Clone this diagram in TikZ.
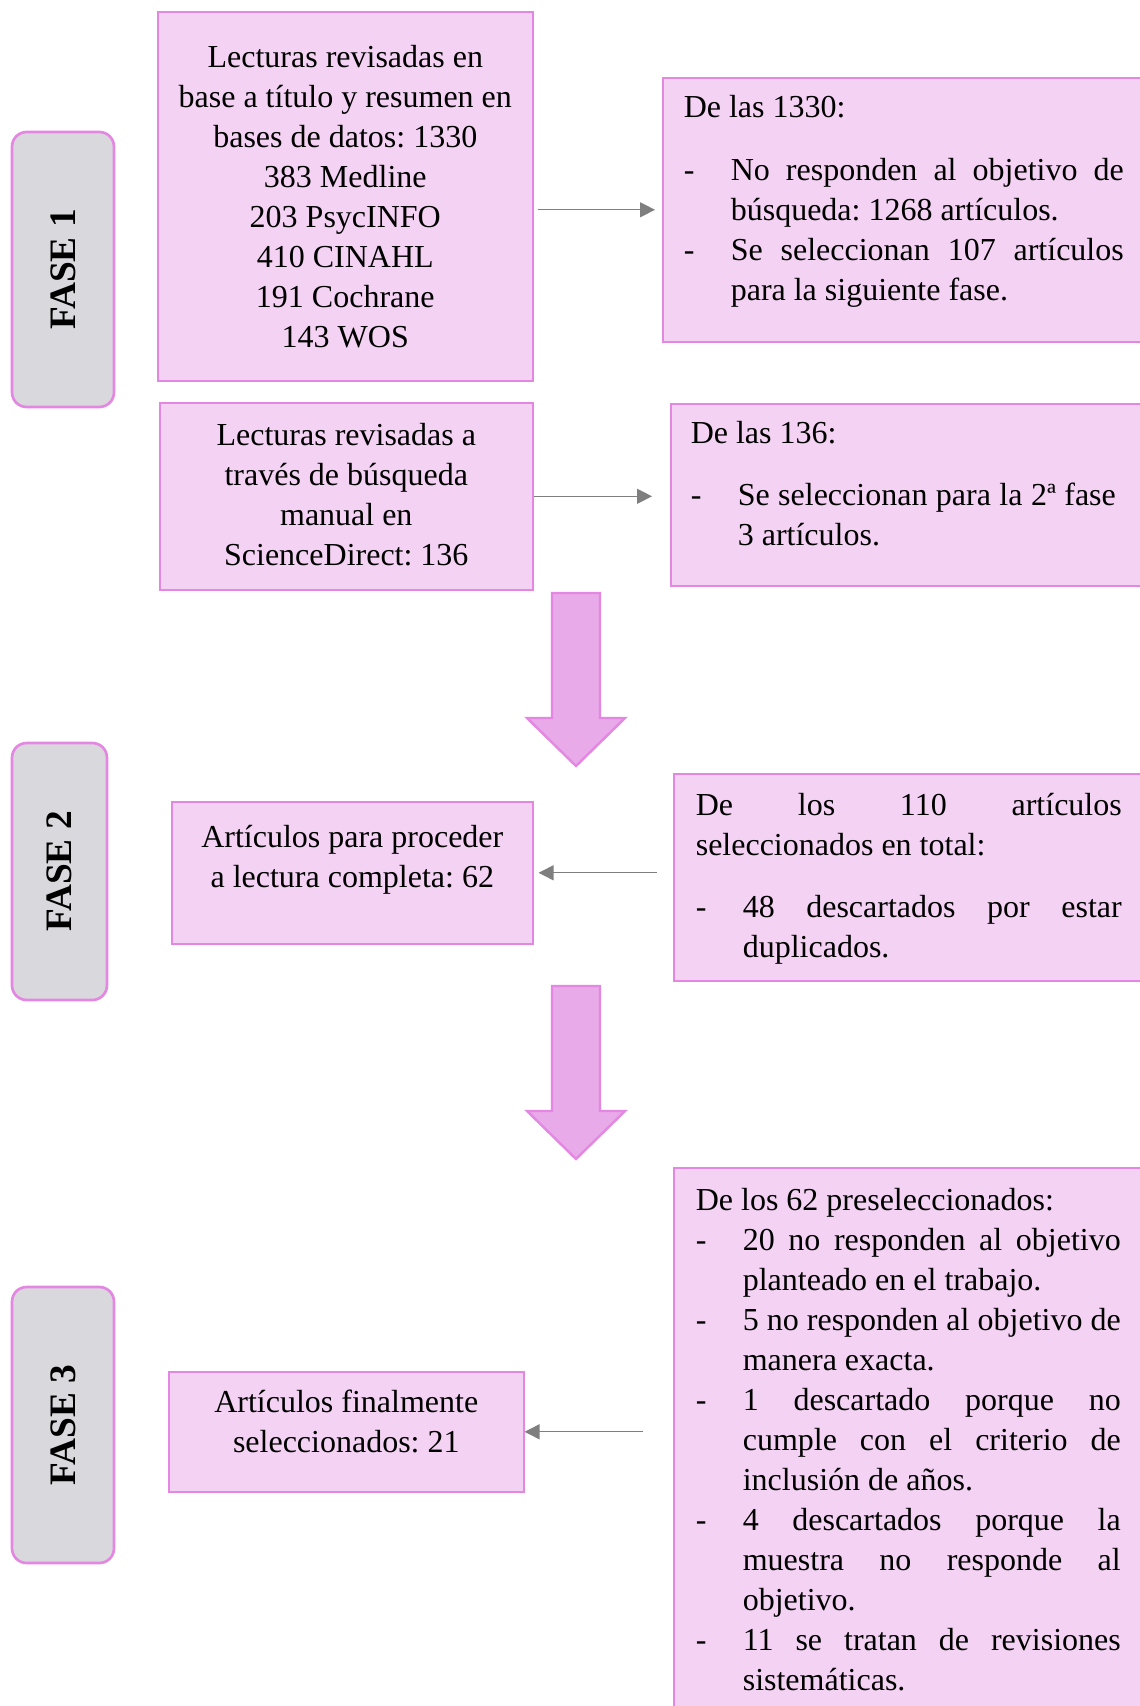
\documentclass[tikz,border=0pt]{standalone}
\usepackage{fontspec}
\setmainfont{Liberation Serif}
\usetikzlibrary{arrows.meta,calc}
\definecolor{FaseRosa}{HTML}{F4D2F3}
\definecolor{FaseBorde}{HTML}{E387E3}
\definecolor{FaseGris}{HTML}{D9D9DD}
\definecolor{FaseFlecha}{HTML}{E8AAE8}
\definecolor{FaseLinea}{HTML}{7F7F7F}
\frenchspacing
\newlength{\px}
\setlength{\px}{0.375pt}
\newcommand{\centrado}[4]{\parbox[c][#2\px][t]{#1\px}{\fontsize{12}{15}\selectfont\centering
  \rule{0pt}{#3\px}#4}}
\newcommand{\lista}[5]{\parbox[c][#1\px][t]{560\px}{\hspace*{#2\px}\parbox[t]{#3\px}{%
  \fontsize{12}{15}\selectfont\hyphenpenalty=10000\rule{0pt}{#4\px}#5}}}
\newcommand{\guion}{\par\hangindent=47\px\hangafter=1\noindent\makebox[47\px][l]{-}}

\begin{document}
\begin{tikzpicture}[x=0.375pt,y=-0.375pt]
    \tikzset{caja/.style={draw=FaseBorde,fill=FaseRosa,line width=0.6pt,inner sep=0pt,anchor=north west},
      fase/.style={draw=FaseBorde,fill=FaseGris,line width=1pt,rounded corners=5.5pt,rotate=90,
      font=\fontsize{14}{17}\selectfont\bfseries},
      flecha/.style={draw=FaseLinea,line width=0.5pt,-{Triangle[length=5.6pt,width=5.6pt]}},
      bloque/.style={draw=FaseBorde,fill=FaseFlecha,line width=0.9pt}}
    \path[use as bounding box,fill=white] (0,0) rectangle (1140,1706);
    \clip (0,0) rectangle (1140,1706);
    \node[fase,minimum width=275*\px,minimum height=102*\px] (f1) at (63,269.5) {FASE 1};
    \node[fase,minimum width=257*\px,minimum height=95*\px] (f2) at (59.5,871.5) {FASE 2};
    \node[fase,minimum width=276*\px,minimum height=102*\px] (f3) at (63,1425) {FASE 3};
    \node[caja] (b1) at (157,11) {\centrado{375}{369}{56}{Lecturas revisadas en\\base a título y resumen en\\bases de datos: 1330\\383 Medline\\203 PsycINFO\\410 CINAHL\\191 Cochrane\\143 WOS}};
    \node[caja] (b2) at (159,402) {\centrado{373}{187}{43}{Lecturas revisadas a\\través de búsqueda\\manual en\\ScienceDirect: 136}};
    \node[caja] (b3) at (171,801) {\centrado{361}{142}{46}{Artículos para proceder\\a lectura completa: 62}};
    \node[caja] (b4) at (168,1371) {\centrado{355}{120}{41}{Artículos finalmente\\seleccionados: 21}};
    \node[caja] (r1) at (662,77) {\lista{264}{21}{440}{40}{De las 1330:\par\vspace{23\px}%
      \guion No responden al objetivo de\linebreak búsqueda: 1268 artículos.%
      \guion Se seleccionan 107 artículos\linebreak para la siguiente fase.}};
    \node[caja] (r2) at (670,403) {\lista{182}{20}{425}{40}{De las 136:\par\vspace{22\px}%
      \guion Se seleccionan para la 2ª fase\linebreak 3 artículos.}};
    \node[caja] (r3) at (673,773) {\lista{207}{22}{426}{42}{De los 110 artículos\linebreak seleccionados en total:\par\vspace{22\px}%
      \guion 48 descartados por estar\linebreak duplicados.}};
    \node[caja] (r4) at (673,1167) {\lista{600}{22}{425}{43}{De los 62 preseleccionados:%
      \guion 20 no responden al objetivo\linebreak planteado en el trabajo.%
      \guion 5 no responden al objetivo de\linebreak manera exacta.%
      \guion 1 descartado porque no\linebreak cumple con el criterio de\linebreak inclusión de años.%
      \guion 4 descartados porque la\linebreak muestra no responde al\linebreak objetivo.%
      \guion 11 se tratan de revisiones\linebreak sistemáticas.}};
    \draw[flecha] ($(b1.east |- r1.west)+(4,0)$) -- ($(r1.west)+(-7,0)$);
    \draw[flecha] (b2.east) -- ($(r2.west |- b2.east)+(-18,0)$);
    \draw[flecha] ($(r3.west |- b3.east)+(-16,0)$) -- ($(b3.east)+(5,0)$);
    \draw[flecha] ($(r4.west |- b4.east)+(-30,0)$) -- (b4.east);
    \foreach \y in {593,986}{\draw[bloque] (552,\y) -- ++(48,0) -- ++(0,125) -- ++(25,0) -- ++(-49,48)
      -- ++(-49,-48) -- ++(25,0) -- cycle;}
  \end{tikzpicture}
\end{document}
